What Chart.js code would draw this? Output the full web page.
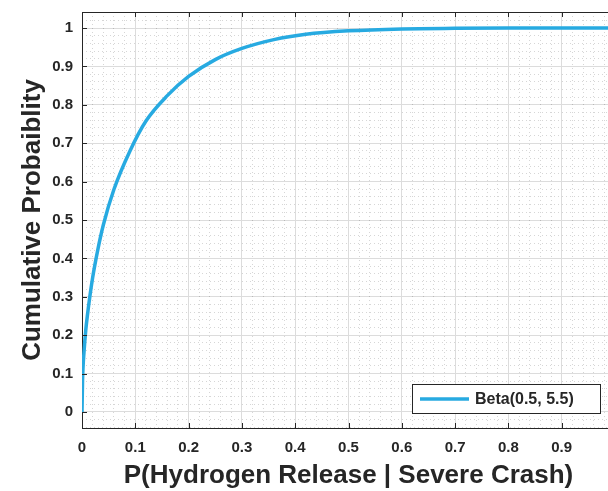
<!DOCTYPE html>
<html>
<head>
<meta charset="utf-8">
<script src="https://cdn.jsdelivr.net/npm/chart.js@4"></script>
<style>
  html, body { margin: 0; padding: 0; background: #fff; overflow: hidden; }
  canvas { display: block; }
</style>
</head>
<body>
<canvas id="cdf" width="620" height="491" style="width:620px;height:491px"></canvas>
<script>
/* ── data ── */
const xVals = [0, 0.001, 0.004, 0.007, 0.01, 0.02, 0.03, 0.04, 0.06, 0.09, 0.12, 0.16, 0.2, 0.25, 0.3, 0.36, 0.42, 0.5, 0.6, 0.7, 0.8, 0.9, 1.0];
const yVals = [0, 0.08, 0.16, 0.212, 0.25, 0.35, 0.425, 0.487, 0.58, 0.68, 0.758, 0.824, 0.874, 0.918, 0.947, 0.970, 0.984, 0.993, 0.998, 0.9995, 1.0, 1.0, 1.0];
const seriesLabel = 'Beta(0.5, 5.5)';
const xTickValues = [0, 0.1, 0.2, 0.3, 0.4, 0.5, 0.6, 0.7, 0.8, 0.9, 1];
const yTickValues = [0, 0.1, 0.2, 0.3, 0.4, 0.5, 0.6, 0.7, 0.8, 0.9, 1];
const xTitle = 'P(Hydrogen Release | Severe Crash)';
const yTitle = 'Cumulative Probaiblity';

const X_MIN = 0, X_MAX = 1, Y_MIN = -0.042, Y_MAX = 1.042;
const MINOR = 0.02;
const AXIS_COLOR = '#262626';
const FONT = '"Liberation Sans", Arial, Helvetica, sans-serif';

function minorTicks(min, max) {
  const out = [];
  for (let k = Math.ceil(min / MINOR); k * MINOR <= max + 1e-9; k++) {
    if (k % 5 !== 0) out.push({ value: k * MINOR });
  }
  return out;
}

const fmt = v => (Math.abs(v) < 1e-9 ? '0' : String(Math.round(v * 10) / 10));

function fixSize(prop, size) {
  return s => {
    s[prop] = size;
    s.paddingTop = s.paddingBottom = s.paddingLeft = s.paddingRight = 0;
  };
}

/* ── box, inward ticks, legend ── */
const matlabBits = {
  id: 'matlabBits',
  afterDatasetsDraw(chart) {
    const { ctx, chartArea: a, scales: { x, y } } = chart;
    ctx.save();
    ctx.strokeStyle = AXIS_COLOR;
    ctx.lineWidth = 1;
    ctx.beginPath();
    ctx.moveTo(a.left, a.top + 0.5);
    ctx.lineTo(a.right, a.top + 0.5);
    xTickValues.forEach(v => {
      const px = Math.round(x.getPixelForValue(v)) + 0.5;
      ctx.moveTo(px, a.bottom); ctx.lineTo(px, a.bottom - 5);
      ctx.moveTo(px, a.top); ctx.lineTo(px, a.top + 5);
    });
    yTickValues.forEach(v => {
      const py = Math.round(y.getPixelForValue(v)) + 0.5;
      ctx.moveTo(a.left, py); ctx.lineTo(a.left + 5, py);
    });
    ctx.stroke();

    // legend box, bottom right inside the axes
    const ds = chart.data.datasets[0];
    const bx = 412, by = 384, bw = 188, bh = 29;
    ctx.fillStyle = '#fff';
    ctx.fillRect(bx, by, bw, bh);
    ctx.strokeStyle = AXIS_COLOR;
    ctx.lineWidth = 1;
    ctx.strokeRect(bx + 0.5, by + 0.5, bw, bh);
    ctx.strokeStyle = ds.borderColor;
    ctx.lineWidth = 3.5;
    ctx.beginPath();
    ctx.moveTo(bx + 8, by + bh / 2 + 0.5);
    ctx.lineTo(bx + 57, by + bh / 2 + 0.5);
    ctx.stroke();
    ctx.fillStyle = AXIS_COLOR;
    ctx.font = 'bold 16px ' + FONT;
    ctx.textBaseline = 'middle';
    ctx.fillText(ds.label, bx + 63, by + bh / 2 + 1);
    ctx.restore();
  }
};

new Chart(document.getElementById('cdf'), {
  type: 'line',
  data: {
    datasets: [{
      label: seriesLabel,
      data: xVals.map((v, i) => ({ x: v, y: yVals[i] })),
      borderColor: '#27aae1',
      borderWidth: 3.5,
      pointRadius: 0,
      cubicInterpolationMode: 'monotone',
      fill: false
    }]
  },
  options: {
    responsive: false,
    animation: false,
    events: [],
    layout: { padding: { top: 12, right: 5, left: 0, bottom: 0 } },
    plugins: { legend: { display: false }, tooltip: { enabled: false } },
    scales: {
      x: {
        type: 'linear', position: 'bottom', min: X_MIN, max: X_MAX,
        afterBuildTicks: s => { s.ticks = xTickValues.map(v => ({ value: v })); },
        afterFit: fixSize('height', 63),
        ticks: {
          callback: v => (v >= 1 ? '' : fmt(v)),
          color: AXIS_COLOR, padding: 11, maxRotation: 0, autoSkip: false,
          font: { family: FONT, size: 15, weight: 'bold' }
        },
        grid: { color: '#dcdcdc', drawTicks: false },
        border: { color: AXIS_COLOR, width: 1 },
        title: {
          display: true, text: xTitle, color: AXIS_COLOR,
          font: { family: FONT, size: 26, weight: 'bold' },
          padding: { top: 0, bottom: 0 }
        }
      },
      y: {
        type: 'linear', position: 'left', min: Y_MIN, max: Y_MAX,
        afterBuildTicks: s => { s.ticks = yTickValues.map(v => ({ value: v })); },
        afterFit: fixSize('width', 82),
        ticks: {
          callback: v => fmt(v),
          color: AXIS_COLOR, padding: 9, autoSkip: false,
          font: { family: FONT, size: 15, weight: 'bold' }
        },
        grid: { color: '#dcdcdc', drawTicks: false },
        border: { color: AXIS_COLOR, width: 1 },
        title: {
          display: true, text: yTitle, color: AXIS_COLOR,
          font: { family: FONT, size: 26, weight: 'bold' },
          padding: { top: 17, bottom: 0 }
        }
      },
      x2: {
        type: 'linear', position: 'top', min: X_MIN, max: X_MAX,
        afterBuildTicks: s => { s.ticks = minorTicks(X_MIN, X_MAX); },
        afterFit: fixSize('height', 0),
        ticks: { display: false },
        grid: { color: 'rgba(0,0,0,0.16)', drawTicks: false },
        border: { display: false, dash: [1, 3] }
      },
      y2: {
        type: 'linear', position: 'right', min: Y_MIN, max: Y_MAX,
        afterBuildTicks: s => { s.ticks = minorTicks(Y_MIN, Y_MAX); },
        afterFit: fixSize('width', 0),
        ticks: { display: false },
        grid: { color: 'rgba(0,0,0,0.16)', drawTicks: false },
        border: { display: false, dash: [1, 3] }
      }
    }
  },
  plugins: [matlabBits]
});
</script>
</body>
</html>
